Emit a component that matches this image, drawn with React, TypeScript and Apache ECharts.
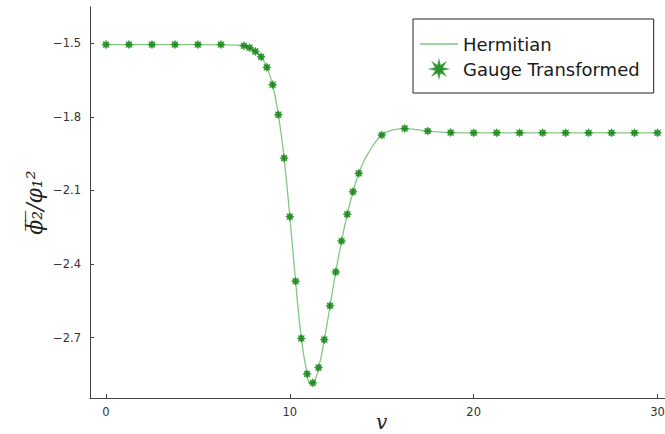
import React, { useEffect, useRef } from "react";
import * as echarts from "echarts";

// Gauge Transformed markers (v, value)
const gaugeV = [
  0, 1.25, 2.5, 3.75, 5, 6.25, 7.5, 7.8125, 8.125, 8.4375, 8.75, 9.0625, 9.375,
  9.6875, 10, 10.3125, 10.625, 10.9375, 11.25, 11.5625, 11.875, 12.1875, 12.5,
  12.8125, 13.125, 13.4375, 13.75, 15, 16.25, 17.5, 18.75, 20, 21.25, 22.5,
  23.75, 25, 26.25, 27.5, 28.75, 30,
];
const gaugeY = [
  -1.505, -1.505, -1.505, -1.505, -1.505, -1.505, -1.51, -1.518, -1.533, -1.555,
  -1.598, -1.669, -1.791, -1.968, -2.207, -2.47, -2.703, -2.848, -2.884, -2.822,
  -2.708, -2.57, -2.432, -2.306, -2.197, -2.105, -2.03, -1.874, -1.847, -1.858,
  -1.864, -1.865, -1.865, -1.865, -1.865, -1.865, -1.865, -1.865, -1.865, -1.865,
];

// Hermitian curve (v, value)
const hermV = [
  0, 2.5, 5, 6.25, 7.5, 7.8125, 8.125, 8.4375, 8.75, 9.0625, 9.375, 9.6875, 10,
  10.3125, 10.625, 10.9375, 11.1, 11.25, 11.5625, 11.875, 12.1875, 12.5, 12.8125,
  13.125, 13.4375, 13.75, 14.0625, 14.375, 14.6875, 15, 15.625, 16.25, 16.875,
  17.5, 18.75, 20, 25, 30,
];
const hermY = [
  -1.505, -1.505, -1.505, -1.506, -1.51, -1.518, -1.533, -1.555, -1.598, -1.669,
  -1.791, -1.968, -2.207, -2.47, -2.703, -2.848, -2.886, -2.884, -2.822, -2.708,
  -2.57, -2.432, -2.306, -2.197, -2.105, -2.03, -1.975, -1.935, -1.9, -1.874,
  -1.853, -1.848, -1.852, -1.858, -1.864, -1.865, -1.865, -1.865,
];

const yTicks = [-2.7, -2.4, -2.1, -1.8, -1.5];
const xTicks = [0, 10, 20, 30];

function starPath(points: number, outer: number, inner: number): string {
  let d = "path://";
  for (let k = 0; k < points * 2; k++) {
    const a = (k * Math.PI) / points - Math.PI / 2;
    const r = k % 2 === 0 ? outer : inner;
    const x = (outer + r * Math.cos(a)).toFixed(3);
    const y = (outer + r * Math.sin(a)).toFixed(3);
    d += (k === 0 ? "M" : "L") + x + "," + y;
  }
  return d + "Z";
}

const markerStar = starPath(8, 10, 6);
const legendStar = starPath(8, 10, 4);
const minus = (v: number) => String(v).replace("-", "\u2212");

export default function App() {
  const ref = useRef<HTMLDivElement>(null);
  useEffect(() => {
    if (!ref.current) return;
    const chart = echarts.init(ref.current, undefined, { renderer: "svg" });
    const axisColor = "#444";
    chart.setOption({
      animation: false,
      backgroundColor: "#ffffff",
      grid: { left: 90, top: 7, right: 6.5, bottom: 36, outerBoundsMode: "none", containLabel: false },
      legend: {
        orient: "vertical",
        left: 413,
        top: 19,
        selectedMode: false,
        borderColor: "#222",
        borderWidth: 1,
        padding: [16, 14, 15, 7],
        itemWidth: 38,
        itemHeight: 14,
        itemGap: 7,
        textStyle: { fontSize: 18, fontFamily: "DejaVu Sans", color: "#1a1a1a" },
        data: [
          { name: "Hermitian", icon: "path://M0,0H40V1.4H0Z" },
          { name: "Gauge Transformed", icon: legendStar },
        ],
      },
      xAxis: {
        type: "value",
        min: -0.87,
        max: 30.87,
        name: "v",
        nameLocation: "middle",
        nameGap: 14,
        nameMoveOverlap: false,
        nameTextStyle: {
          fontFamily: "DejaVu Serif",
          fontStyle: "italic",
          fontSize: 20,
          color: "#222",
        },
        splitLine: { show: false },
        axisLine: { show: true, onZero: false, lineStyle: { color: axisColor, width: 1 } },
        axisTick: {
          show: true,
          inside: true,
          length: 4,
          customValues: xTicks,
          lineStyle: { color: axisColor },
        },
        axisLabel: {
          customValues: xTicks,
          margin: 8,
          fontSize: 11.5,
          fontFamily: "DejaVu Sans",
          color: "#333",
          formatter: (v: number) => minus(v),
        },
      },
      yAxis: {
        type: "value",
        min: -2.946,
        max: -1.352,
        name: "ϕ\u0305\u2082\u0305/φ\u2081\u00B2",
        nameLocation: "middle",
        nameGap: 45,
        nameMoveOverlap: false,
        nameTextStyle: {
          fontFamily: "DejaVu Serif",
          fontStyle: "italic",
          fontSize: 22,
          color: "#222",
        },
        splitLine: { show: false },
        axisLine: { show: true, onZero: false, lineStyle: { color: axisColor, width: 1 } },
        axisTick: {
          show: true,
          inside: true,
          length: 4,
          customValues: yTicks,
          lineStyle: { color: axisColor },
        },
        axisLabel: {
          customValues: yTicks,
          margin: 9,
          fontSize: 11.5,
          fontFamily: "DejaVu Sans",
          color: "#333",
          formatter: (v: number) => minus(v),
        },
      },
      series: [
        {
          name: "Hermitian",
          type: "line",
          data: hermV.map((v, i) => [v, hermY[i]]),
          showSymbol: false,
          symbol: "none",
          smooth: 0.5,
          color: "#84c784",
          lineStyle: { color: "#84c784", width: 1.3 },
          z: 2,
        },
        {
          name: "Gauge Transformed",
          type: "scatter",
          data: gaugeV.map((v, i) => [v, gaugeY[i]]),
          symbol: markerStar,
          symbolSize: 8.5,
          color: "#007a00",
          itemStyle: { color: "#007a00", borderColor: "#1f8f1f", borderWidth: 0.5 },
          z: 3,
        },
      ],
    });
    return () => chart.dispose();
  }, []);
  return (
    <div
      style={{
        position: "fixed",
        left: 0,
        top: 0,
        width: 665,
        height: 434,
        overflow: "hidden",
        background: "#fff",
      }}
    >
      <div ref={ref} style={{ width: 680, height: 434 }} />
    </div>
  );
}
